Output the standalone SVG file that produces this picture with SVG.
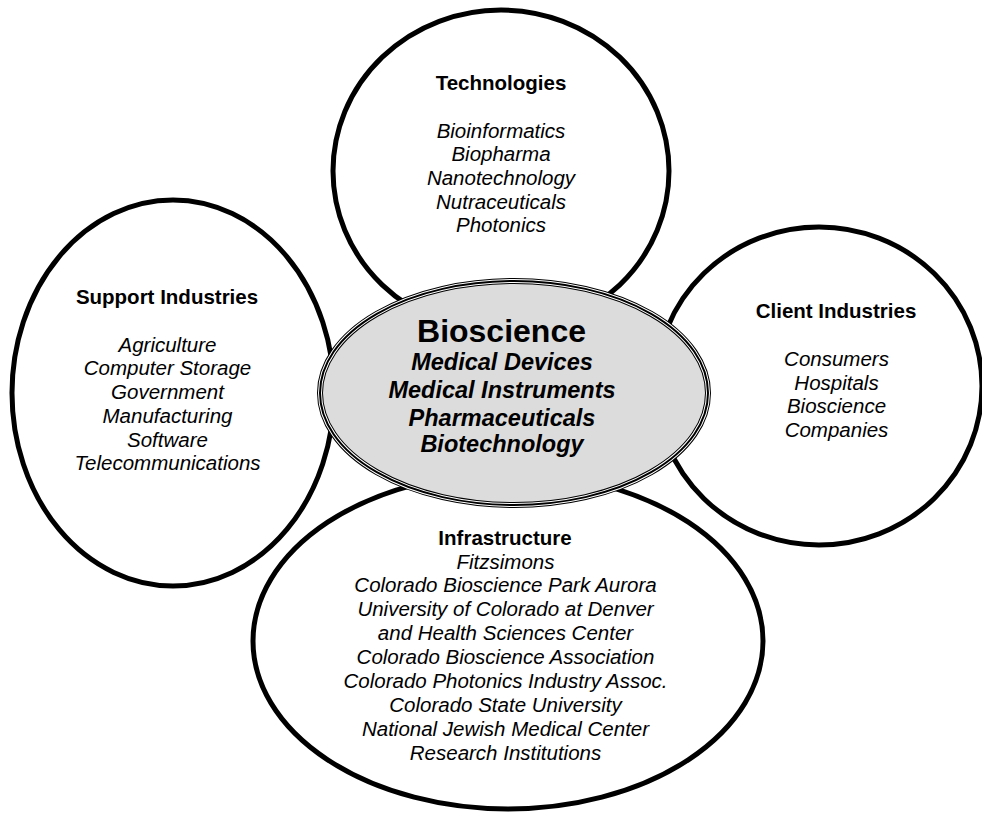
<svg xmlns="http://www.w3.org/2000/svg" width="982" height="814" viewBox="0 0 982 814">
<style>
.outer{fill:none;stroke:#000;stroke-width:5}
text{font-family:"Liberation Sans",Arial,sans-serif;fill:#000;text-anchor:middle}
.t{font-weight:bold;font-size:20.5px}
.i{font-style:italic;font-size:20.5px}
.big{font-weight:bold;font-size:32px}
.ci{font-weight:bold;font-style:italic;font-size:23.5px}
</style>
<rect width="982" height="814" fill="#fff"/>
<g id="technologies">
<ellipse class="outer" cx="501" cy="171" rx="168" ry="161"/>
<text class="t" x="501" y="90">Technologies</text>
<text class="i" x="501" y="137.5">Bioinformatics</text>
<text class="i" x="501" y="161">Biopharma</text>
<text class="i" x="501" y="185">Nanotechnology</text>
<text class="i" x="501" y="208.5">Nutraceuticals</text>
<text class="i" x="501" y="232">Photonics</text>
</g>
<g id="support">
<ellipse class="outer" cx="173" cy="393" rx="161" ry="193"/>
<text class="t" x="167" y="304">Support Industries</text>
<text class="i" x="167.5" y="351.5">Agriculture</text>
<text class="i" x="167.5" y="375.3">Computer Storage</text>
<text class="i" x="167.5" y="399">Government</text>
<text class="i" x="167.5" y="422.8">Manufacturing</text>
<text class="i" x="167.5" y="446.6">Software</text>
<text class="i" x="167.5" y="470.4">Telecommunications</text>
</g>
<g id="client">
<ellipse class="outer" cx="819" cy="386" rx="163" ry="159"/>
<text class="t" x="836" y="318.3">Client Industries</text>
<text class="i" x="836.5" y="366">Consumers</text>
<text class="i" x="836.5" y="389.5">Hospitals</text>
<text class="i" x="836.5" y="413">Bioscience</text>
<text class="i" x="836.5" y="436.5">Companies</text>
</g>
<g id="infrastructure">
<ellipse class="outer" cx="508" cy="641" rx="255" ry="168"/>
<text class="t" x="505" y="545">Infrastructure</text>
<text class="i" x="505.5" y="568.5">Fitzsimons</text>
<text class="i" x="505.5" y="592.4">Colorado Bioscience Park Aurora</text>
<text class="i" x="505.5" y="616.3">University of Colorado at Denver</text>
<text class="i" x="505.5" y="640.2">and Health Sciences Center</text>
<text class="i" x="505.5" y="664.1">Colorado Bioscience Association</text>
<text class="i" x="505.5" y="688">Colorado Photonics Industry Assoc.</text>
<text class="i" x="505.5" y="711.9">Colorado State University</text>
<text class="i" x="505.5" y="735.8">National Jewish Medical Center</text>
<text class="i" x="505.5" y="759.7">Research Institutions</text>
</g>
<g id="bioscience">
<ellipse cx="514" cy="393" rx="194" ry="112" fill="#dcdcdc" stroke="#000" stroke-width="6"/>
<ellipse cx="514" cy="393" rx="194" ry="112" fill="none" stroke="#fff" stroke-width="4"/>
<ellipse cx="514" cy="393" rx="194" ry="112" fill="none" stroke="#000" stroke-width="2"/>
<text class="big" x="501.5" y="341.7">Bioscience</text>
<text class="ci" x="502" y="370">Medical Devices</text>
<text class="ci" x="502" y="398">Medical Instruments</text>
<text class="ci" x="502" y="425.5">Pharmaceuticals</text>
<text class="ci" x="502" y="451.7">Biotechnology</text>
</g>
<g id="connectors"></g>
</svg>
